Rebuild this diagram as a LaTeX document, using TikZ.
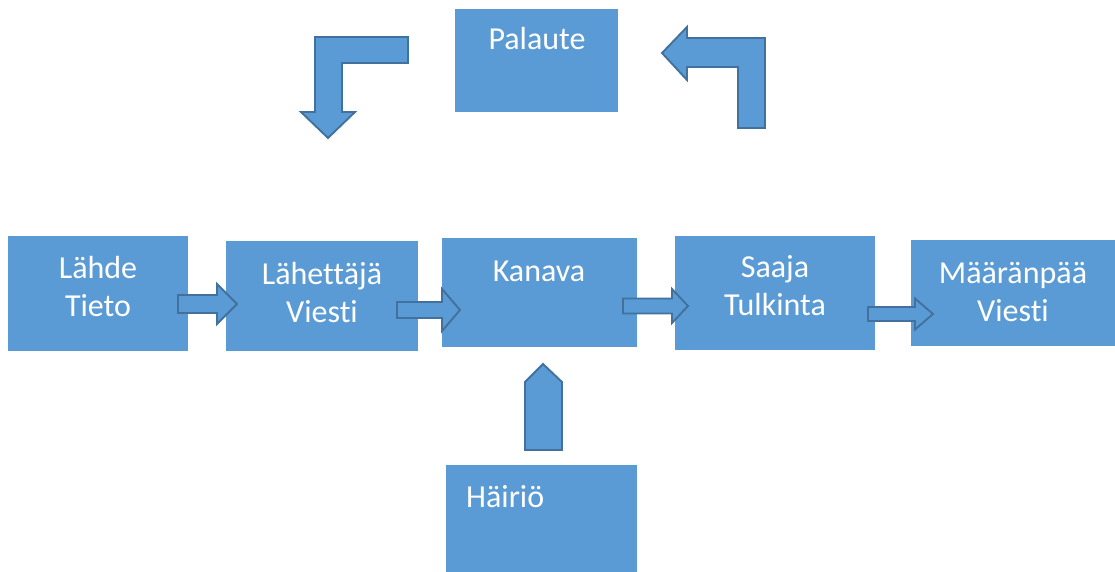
\documentclass[tikz,border=0pt]{standalone}
\usepackage{fontspec}
\setmainfont[RawFeature=-liga]{Carlito}
\definecolor{boxblue}{HTML}{5B9BD5}
\definecolor{edgeblue}{HTML}{41719C}
% horizontal block arrow: #1 tail x, #2 head start x, #3 tip x, #4 centre y, #5 shaft half width, #6 head half width
\newcommand\blockarrowright[6]{%
  \draw[blockarrow] (#1,#4-#5) -- (#2,#4-#5) -- (#2,#4-#6) -- (#3,#4)
    -- (#2,#4+#6) -- (#2,#4+#5) -- (#1,#4+#5) -- cycle;}
\begin{document}
\begin{tikzpicture}[x=1pt,y=-1pt,
  box/.style={fill=boxblue,draw=none,inner sep=0pt,outer sep=0pt,anchor=north west},
  lbl/.style={text=white,font=\fontsize{32}{38}\selectfont,align=center,inner sep=0pt,anchor=base},
  blockarrow/.style={fill=boxblue,draw=edgeblue,line width=1.9pt,line join=miter}]
\useasboundingbox (0,0) rectangle (1115,572);

% boxes
\node[box,minimum width=163pt,minimum height=103pt] (palaute) at (455,9) {};
\node[box,minimum width=180pt,minimum height=115pt] (lahde) at (8,236) {};
\node[box,minimum width=192pt,minimum height=110pt] (lahettaja) at (226,241) {};
\node[box,minimum width=195pt,minimum height=109pt] (kanava) at (442,238) {};
\node[box,minimum width=200pt,minimum height=114pt] (saaja) at (675,236) {};
\node[box,minimum width=204pt,minimum height=106pt] (maaranpaa) at (911,240) {};
\node[box,minimum width=191pt,minimum height=107pt] (hairio) at (446,465) {};

% box texts (base anchor sits on the last line)
\node[lbl] (tpalaute) at (537,50) {Palaute};
\node[lbl] (tlahde) at (98,316) {Lähde\\Tieto};
\node[lbl] (tlahettaja) at (322,322) {Lähettäjä\\Viesti};
\node[lbl] (tkanava) at (539,281) {Kanava};
\node[lbl] (tsaaja) at (775,315) {Saaja\\Tulkinta};
\node[lbl] (tmaaranpaa) at (1013,321) {Määränpää\\Viesti};
\node[lbl,anchor=base west] (thairio) at (466,507) {Häiriö};

% flow arrows between the boxes
\blockarrowright{178}{217}{237}{304}{9}{20}
\blockarrowright{397}{442}{460}{310}{8}{21}
\blockarrowright{623}{672}{688}{306}{7.5}{17}
\blockarrowright{868}{915}{933}{314}{7}{15.5}

% noise arrow pointing up into the channel
\draw[blockarrow] (525,450) -- (525,382) -- (543,364) -- (562,382) -- (562,450) -- cycle;

% feedback arrows
\draw[blockarrow] (408,37) -- (315,37) -- (315,112) -- (301,112) -- (328,138)
  -- (355,112) -- (342,112) -- (342,63) -- (408,63) -- cycle;
\draw[blockarrow] (765,128) -- (765,38) -- (687,38) -- (687,27) -- (662,53)
  -- (687,80) -- (687,67) -- (738,67) -- (738,128) -- cycle;
\end{tikzpicture}
\end{document}
